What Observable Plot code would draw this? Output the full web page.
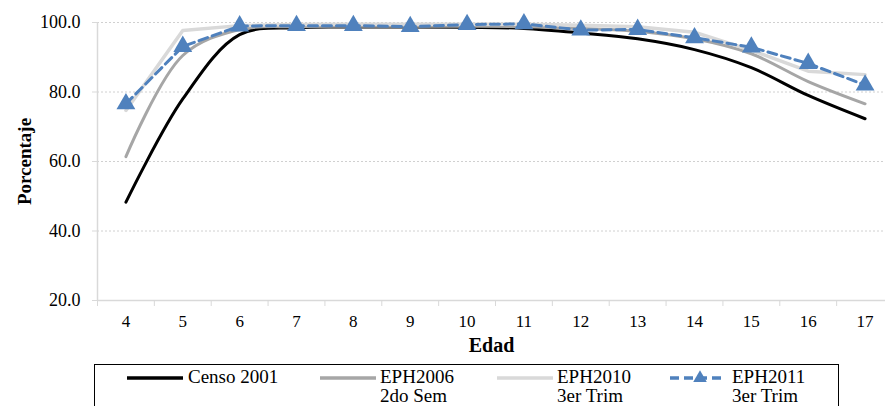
<!DOCTYPE html>
<html>
<head>
<meta charset="utf-8">
<script src="https://cdn.jsdelivr.net/npm/d3@7"></script>
<script src="https://cdn.jsdelivr.net/npm/@observablehq/plot@0.6"></script>
<style>
  body { margin: 0; background: #fff; }
  #wrap { position: relative; width: 885px; height: 406px; overflow: hidden; font-family: "Liberation Serif", "DejaVu Serif", serif; }
  #legend { position: absolute; left: 94px; top: 364px; width: 745px; height: 60px; border: 1px solid #000; box-sizing: border-box; }
  .sw { position: absolute; top: 5px; }
  .lab { position: absolute; top: 2px; font-size: 19px; line-height: 19px; color: #000; white-space: nowrap; font-family: "Liberation Serif", "DejaVu Serif", serif; }
</style>
</head>
<body>
<div id="wrap">
  <div id="chart"></div>
  <div id="legend"></div>
</div>
<script>
const edad = [4, 5, 6, 7, 8, 9, 10, 11, 12, 13, 14, 15, 16, 17];
const censo2001 = [48.3, 78.0, 96.5, 98.5, 98.7, 98.7, 98.6, 98.3, 97.0, 95.3, 92.2, 87.0, 79.0, 72.3];
const eph2006 = [61.4, 90.5, 98.0, 98.8, 98.9, 98.9, 98.9, 98.8, 98.3, 97.5, 95.3, 91.0, 83.0, 76.6];
const eph2010 = [74.7, 97.7, 99.1, 99.4, 99.5, 99.5, 99.5, 99.5, 99.2, 98.8, 97.2, 92.0, 86.0, 85.0];
const eph2011 = [76.6, 93.1, 99.0, 99.1, 99.1, 98.8, 99.4, 99.6, 97.8, 98.0, 95.6, 92.9, 88.2, 82.0];
const yTicks = [20, 40, 60, 80, 100];
const seriesNames = ["Censo 2001", "EPH2006\n2do Sem", "EPH2010\n3er Trim", "EPH2011\n3er Trim"];

const rows = (vals) => edad.map((e, i) => ({edad: e, v: vals[i]}));
const halfTicks = d3.range(3.5, 18, 1);
const serif = "'Liberation Serif', 'DejaVu Serif', serif";

const chart = Plot.plot({
  width: 885,
  height: 360,
  marginLeft: 97,
  marginRight: 0,
  marginTop: 22,
  marginBottom: 60,
  style: {fontFamily: serif, fontSize: "17px", color: "#000", background: "#fff"},
  x: {type: "linear", domain: [3.5, 17.5], range: [97, 893]},
  y: {domain: [20, 100], range: [300, 22]},
  marks: [
    Plot.gridY(yTicks.filter(d => d > 20), {stroke: "#d0d0d0", strokeOpacity: 1, strokeDasharray: "2,2"}),
    Plot.ruleY([20], {stroke: "#d9d9d9", strokeWidth: 1.5}),
    Plot.ruleX([3.5], {y1: 20, y2: 100, stroke: "#d9d9d9", strokeWidth: 1.5}),
    Plot.axisY(yTicks, {anchor: "left", tickSize: 5, tickPadding: 12, stroke: "#d9d9d9", tickFormat: d3.format(".1f"), label: null, fill: "#000", fontFamily: serif, fontSize: 18}),
    Plot.axisX(halfTicks, {anchor: "bottom", tickSize: 6, stroke: "#d9d9d9", tickFormat: () => "", label: null}),
    Plot.axisX(edad, {anchor: "bottom", tickSize: 0, tickPadding: 14, tickFormat: d => String(d), label: null, fill: "#000", fontFamily: serif, fontSize: 17}),
    Plot.line(rows(censo2001), {x: "edad", y: "v", stroke: "#000", strokeWidth: 3, curve: "catmull-rom"}),
    Plot.line(rows(eph2006), {x: "edad", y: "v", stroke: "#a6a6a6", strokeWidth: 3, curve: "catmull-rom"}),
    Plot.line(rows(eph2010), {x: "edad", y: "v", stroke: "#d9d9d9", strokeWidth: 3.5}),
    Plot.line(rows(eph2011), {x: "edad", y: "v", stroke: "#4f81bd", strokeWidth: 3, strokeDasharray: "9,5"}),
    Plot.dot(rows(eph2011), {x: "edad", y: "v", symbol: "triangle", r: 7, fill: "#4f81bd", stroke: "none"}),
    Plot.text(["Porcentaje"], {frameAnchor: "left", rotate: -90, dx: -73, textAnchor: "middle", lineAnchor: "middle", fontWeight: "bold", fontSize: 19, fontFamily: serif}),
    Plot.text(["Edad"], {frameAnchor: "bottom", dy: 45, textAnchor: "middle", lineAnchor: "middle", fontWeight: "bold", fontSize: 20, fontFamily: serif})
  ]
});
document.getElementById("chart").appendChild(chart);

// Legend
const legend = document.getElementById("legend");
const legendPos = [
  {sw: 127, text: 188, stroke: "#000", dash: null, tri: false},
  {sw: 320, text: 380, stroke: "#a6a6a6", dash: null, tri: false},
  {sw: 497, text: 557, stroke: "#d9d9d9", dash: null, tri: false},
  {sw: 670, text: 732, stroke: "#4f81bd", dash: "9,5", tri: true}
];
seriesNames.forEach((name, i) => {
  const p = legendPos[i];
  const left0 = 94 + 1;
  const sw = d3.create("svg").attr("width", 58).attr("height", 14)
    .attr("class", "sw").style("left", (p.sw - left0) + "px");
  sw.append("line").attr("x1", 0).attr("x2", 56).attr("y1", 8).attr("y2", 8)
    .attr("stroke", p.stroke).attr("stroke-width", 3.5)
    .attr("stroke-dasharray", p.dash);
  if (p.tri) {
    sw.append("path").attr("d", d3.symbol(d3.symbolTriangle, 80)()).attr("transform", "translate(30,8)").attr("fill", p.stroke);
  }
  legend.appendChild(sw.node());
  const lab = document.createElement("div");
  lab.className = "lab";
  lab.style.left = (p.text - left0) + "px";
  lab.innerHTML = name.split("\n").join("<br>");
  legend.appendChild(lab);
});
</script>
</body>
</html>
